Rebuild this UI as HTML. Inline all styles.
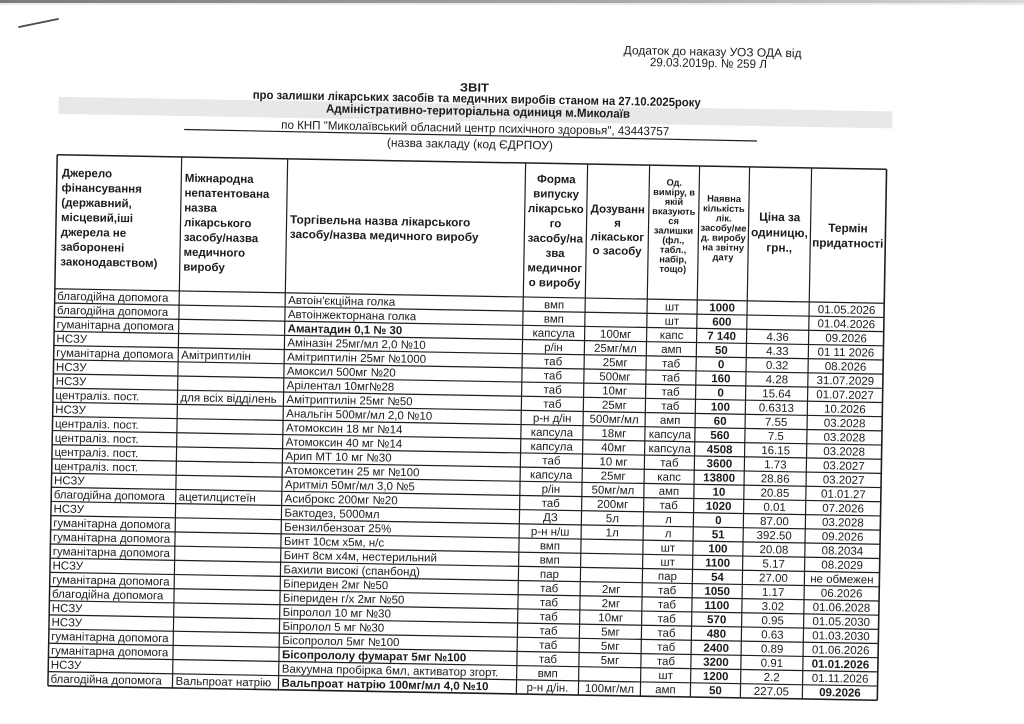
<!DOCTYPE html>
<html lang="uk">
<head>
<meta charset="utf-8">
<title>Звіт про залишки лікарських засобів</title>
<style>
html,body{margin:0;padding:0;background:#fff;}
svg{display:block;}
text{font-family:"Liberation Sans","DejaVu Sans",sans-serif;font-size:11.5px;fill:#1c1c1c;}
.c{text-anchor:middle;}
.b{font-weight:bold;}
.q{text-anchor:middle;font-weight:bold;}
.h{font-weight:bold;font-size:11.5px;}
.hc{font-weight:bold;font-size:11.5px;text-anchor:middle;}
.hs{font-weight:bold;font-size:9.3px;text-anchor:middle;}
.hl{font-weight:bold;font-size:11.8px;}
.hlc{font-weight:bold;font-size:11.8px;text-anchor:middle;}
.t{font-size:12px;}
.tb{font-size:12px;font-weight:bold;}
.grid line{stroke:#1e1e1e;stroke-width:1.2;}
</style>
</head>
<body>
<svg width="1024" height="724" viewBox="0 0 1024 724" xmlns="http://www.w3.org/2000/svg">
<defs>
<linearGradient id="tg" x1="0" y1="0" x2="1" y2="0">
<stop offset="0" stop-color="#7c7c7c"/>
<stop offset="0.6" stop-color="#a8a8a8"/>
<stop offset="1" stop-color="#d8d8d8"/>
</linearGradient>
</defs>
<rect x="0" y="0" width="1024" height="724" fill="#ffffff"/>
<rect x="0" y="0" width="1024" height="3" fill="url(#tg)"/>
<rect x="0" y="3" width="1024" height="2" fill="#ececec"/>
<line x1="19" y1="27" x2="58" y2="19" stroke="#4a4a4a" stroke-width="1.8" stroke-linecap="round"/>

<g transform="rotate(1 467 427.5)">
<!-- grey scan band -->
<rect x="53" y="104" width="834" height="17" fill="#e8e8e8"/>

<!-- heading -->
<text class="t" x="706" y="51.5" text-anchor="middle" textLength="178" lengthAdjust="spacingAndGlyphs">Додаток до наказу УОЗ ОДА від</text>
<text class="t" x="702" y="63" text-anchor="middle" textLength="117" lengthAdjust="spacingAndGlyphs">29.03.2019р. № 259 Л</text>
<text class="tb" x="468.5" y="91.5" text-anchor="middle" textLength="29" lengthAdjust="spacingAndGlyphs">ЗВІТ</text>
<text class="tb" x="471" y="102.5" text-anchor="middle" textLength="448" lengthAdjust="spacingAndGlyphs">про залишки лікарських засобів та медичних виробів станом на 27.10.2025року</text>
<text class="tb" x="472.5" y="115" text-anchor="middle" textLength="304" lengthAdjust="spacingAndGlyphs">Адміністративно-територіальна одиниця  м.Миколаїв</text>
<text class="t" x="470" y="132" text-anchor="middle" textLength="388" lengthAdjust="spacingAndGlyphs">по КНП "Миколаївський обласний центр психічного здоровья", 43443757</text>
<line x1="179" y1="134.5" x2="752" y2="136" stroke="#1e1e1e" stroke-width="1.2"/>
<text class="t" x="465" y="148" text-anchor="middle" textLength="166" lengthAdjust="spacingAndGlyphs">(назва закладу (код ЄДРПОУ)</text>

<!-- table grid -->
<g class="grid">
<line x1="52.5" y1="162" x2="882" y2="162" style="stroke-width:1.5"/>
<line x1="52.5" y1="296" x2="882" y2="296"/>
<line x1="52.5" y1="310.18" x2="882" y2="310.18"/>
<line x1="52.5" y1="324.36" x2="882" y2="324.36"/>
<line x1="52.5" y1="338.54" x2="882" y2="338.54"/>
<line x1="52.5" y1="352.72" x2="882" y2="352.72"/>
<line x1="52.5" y1="366.9" x2="882" y2="366.9"/>
<line x1="52.5" y1="381.08" x2="882" y2="381.08"/>
<line x1="52.5" y1="395.26" x2="882" y2="395.26"/>
<line x1="52.5" y1="409.44" x2="882" y2="409.44"/>
<line x1="52.5" y1="423.62" x2="882" y2="423.62"/>
<line x1="52.5" y1="437.8" x2="882" y2="437.8"/>
<line x1="52.5" y1="451.98" x2="882" y2="451.98"/>
<line x1="52.5" y1="466.16" x2="882" y2="466.16"/>
<line x1="52.5" y1="480.34" x2="882" y2="480.34"/>
<line x1="52.5" y1="494.52" x2="882" y2="494.52"/>
<line x1="52.5" y1="508.7" x2="882" y2="508.7"/>
<line x1="52.5" y1="522.88" x2="882" y2="522.88"/>
<line x1="52.5" y1="537.06" x2="882" y2="537.06"/>
<line x1="52.5" y1="551.24" x2="882" y2="551.24"/>
<line x1="52.5" y1="565.42" x2="882" y2="565.42"/>
<line x1="52.5" y1="579.6" x2="882" y2="579.6"/>
<line x1="52.5" y1="593.78" x2="882" y2="593.78"/>
<line x1="52.5" y1="607.96" x2="882" y2="607.96"/>
<line x1="52.5" y1="622.14" x2="882" y2="622.14"/>
<line x1="52.5" y1="636.32" x2="882" y2="636.32"/>
<line x1="52.5" y1="650.5" x2="882" y2="650.5"/>
<line x1="52.5" y1="664.68" x2="882" y2="664.68"/>
<line x1="52.5" y1="678.86" x2="882" y2="678.86"/>
<line x1="52.5" y1="693.04" x2="882" y2="693.04" style="stroke-width:1.6"/>

<line x1="52.5" y1="162" x2="52.5" y2="693.04" style="stroke-width:1.5"/>
<line x1="177" y1="162" x2="177" y2="693.04"/>
<line x1="283" y1="162" x2="283" y2="693.04"/>
<line x1="521" y1="162" x2="521" y2="693.04"/>
<line x1="583" y1="162" x2="583" y2="693.04"/>
<line x1="645" y1="162" x2="645" y2="693.04"/>
<line x1="695" y1="162" x2="695" y2="693.04"/>
<line x1="745" y1="162" x2="745" y2="693.04"/>
<line x1="807" y1="162" x2="807" y2="693.04"/>
<line x1="882" y1="162" x2="882" y2="693.04" style="stroke-width:1.6"/>
</g>

<!-- header texts -->
<text class="h" x="57.5" y="183.7">Джерело</text>
<text class="h" x="57.5" y="198.5">фінансування</text>
<text class="h" x="57.5" y="213.3">(державний,</text>
<text class="h" x="57.5" y="228.1">місцевий,іші</text>
<text class="h" x="57.5" y="242.9">джерела не</text>
<text class="h" x="57.5" y="257.7">заборонені</text>
<text class="h" x="57.5" y="272.5">законодавством)</text>

<text class="h" x="180.5" y="186.7">Міжнародна</text>
<text class="h" x="180.5" y="201.5">непатентована</text>
<text class="h" x="180.5" y="216.3">назва</text>
<text class="h" x="180.5" y="231.1">лікарського</text>
<text class="h" x="180.5" y="245.9">засобу/назва</text>
<text class="h" x="180.5" y="260.7">медичного</text>
<text class="h" x="180.5" y="275.5">виробу</text>

<text class="hl" x="286.5" y="226.5">Торгівельна назва лікарського</text>
<text class="hl" x="286.5" y="241">засобу/назва медичного виробу</text>

<text class="hc" x="552" y="181.4">Форма</text>
<text class="hc" x="552" y="196.2">випуску</text>
<text class="hc" x="552" y="211">лікарсько</text>
<text class="hc" x="552" y="225.8">го</text>
<text class="hc" x="552" y="240.6">засобу/на</text>
<text class="hc" x="552" y="255.4">зва</text>
<text class="hc" x="552" y="270.2">медичног</text>
<text class="hc" x="552" y="285">о виробу</text>

<text class="hc" x="614" y="210.3">Дозуванн</text>
<text class="hc" x="614" y="224.2">я</text>
<text class="hc" x="614" y="238.1">лікаськог</text>
<text class="hc" x="614" y="252">о засобу</text>

<text class="hs" x="670" y="182.1">Од.</text>
<text class="hs" x="670" y="191.7">виміру, в</text>
<text class="hs" x="670" y="201.3">якій</text>
<text class="hs" x="670" y="210.9">вказують</text>
<text class="hs" x="670" y="220.5">ся</text>
<text class="hs" x="670" y="230.1">залишки</text>
<text class="hs" x="670" y="239.7">(фл.,</text>
<text class="hs" x="670" y="249.3">табл.,</text>
<text class="hs" x="670" y="258.9">набір,</text>
<text class="hs" x="670" y="268.5">тощо)</text>

<text class="hs" x="720" y="197.4">Наявна</text>
<text class="hs" x="720" y="207.2">кількість</text>
<text class="hs" x="720" y="216.9">лік.</text>
<text class="hs" x="720" y="226.7">засобу/ме</text>
<text class="hs" x="720" y="236.4">д. виробу</text>
<text class="hs" x="720" y="246.2">на звітну</text>
<text class="hs" x="720" y="255.9">дату</text>

<text class="hlc" x="776" y="215.6">Ціна за</text>
<text class="hlc" x="776" y="231.2">одиницю,</text>
<text class="hlc" x="776" y="246.2">грн.,</text>

<text class="hlc" x="844.5" y="225.5">Термін</text>
<text class="hlc" x="844.5" y="240.5">придатності</text>

<!-- data rows -->
<g transform="translate(0,296)">
<text x="55" y="11">благодійна допомога</text>
<text x="286" y="11">Автоін'єкційна голка</text>
<text class="c" x="552" y="11">вмп</text>
<text class="c" x="670" y="11">шт</text>
<text class="q" x="720" y="11">1000</text>
<text class="c" x="844.5" y="11">01.05.2026</text>
</g>
<g transform="translate(0,310.18)">
<text x="55" y="11">благодійна допомога</text>
<text x="286" y="11">Автоінжекторнана голка</text>
<text class="c" x="552" y="11">вмп</text>
<text class="c" x="670" y="11">шт</text>
<text class="q" x="720" y="11">600</text>
<text class="c" x="844.5" y="11">01.04.2026</text>
</g>
<g transform="translate(0,324.36)">
<text x="55" y="11">гуманітарна допомога</text>
<text class="b" x="286" y="11">Амантадин 0,1 № 30</text>
<text class="c" x="552" y="11">капсула</text>
<text class="c" x="614" y="11">100мг</text>
<text class="c" x="670" y="11">капс</text>
<text class="q" x="720" y="11">7 140</text>
<text class="c" x="776" y="11">4.36</text>
<text class="c" x="844.5" y="11">09.2026</text>
</g>
<g transform="translate(0,338.54)">
<text x="55" y="11">НСЗУ</text>
<text x="286" y="11">Аміназін 25мг/мл 2,0 №10</text>
<text class="c" x="552" y="11">р/ін</text>
<text class="c" x="614" y="11">25мг/мл</text>
<text class="c" x="670" y="11">амп</text>
<text class="q" x="720" y="11">50</text>
<text class="c" x="776" y="11">4.33</text>
<text class="c" x="844.5" y="11">01 11 2026</text>
</g>
<g transform="translate(0,352.72)">
<text x="55" y="11">гуманітарна допомога</text>
<text x="180" y="11">Амітриптилін</text>
<text x="286" y="11">Амітриптилін 25мг №1000</text>
<text class="c" x="552" y="11">таб</text>
<text class="c" x="614" y="11">25мг</text>
<text class="c" x="670" y="11">таб</text>
<text class="q" x="720" y="11">0</text>
<text class="c" x="776" y="11">0.32</text>
<text class="c" x="844.5" y="11">08.2026</text>
</g>
<g transform="translate(0,366.9)">
<text x="55" y="11">НСЗУ</text>
<text x="286" y="11">Амоксил 500мг №20</text>
<text class="c" x="552" y="11">таб</text>
<text class="c" x="614" y="11">500мг</text>
<text class="c" x="670" y="11">таб</text>
<text class="q" x="720" y="11">160</text>
<text class="c" x="776" y="11">4.28</text>
<text class="c" x="844.5" y="11">31.07.2029</text>
</g>
<g transform="translate(0,381.08)">
<text x="55" y="11">НСЗУ</text>
<text x="286" y="11">Арілентал 10мг№28</text>
<text class="c" x="552" y="11">таб</text>
<text class="c" x="614" y="11">10мг</text>
<text class="c" x="670" y="11">таб</text>
<text class="q" x="720" y="11">0</text>
<text class="c" x="776" y="11">15.64</text>
<text class="c" x="844.5" y="11">01.07.2027</text>
</g>
<g transform="translate(0,395.26)">
<text x="55" y="11">централіз. пост.</text>
<text x="180" y="11">для всіх відділень</text>
<text x="286" y="11">Амітриптилін 25мг №50</text>
<text class="c" x="552" y="11">таб</text>
<text class="c" x="614" y="11">25мг</text>
<text class="c" x="670" y="11">таб</text>
<text class="q" x="720" y="11">100</text>
<text class="c" x="776" y="11">0.6313</text>
<text class="c" x="844.5" y="11">10.2026</text>
</g>
<g transform="translate(0,409.44)">
<text x="55" y="11">НСЗУ</text>
<text x="286" y="11">Анальгін 500мг/мл 2,0 №10</text>
<text class="c" x="552" y="11">р-н д/ін</text>
<text class="c" x="614" y="11">500мг/мл</text>
<text class="c" x="670" y="11">амп</text>
<text class="q" x="720" y="11">60</text>
<text class="c" x="776" y="11">7.55</text>
<text class="c" x="844.5" y="11">03.2028</text>
</g>
<g transform="translate(0,423.62)">
<text x="55" y="11">централіз. пост.</text>
<text x="286" y="11">Атомоксин 18 мг №14</text>
<text class="c" x="552" y="11">капсула</text>
<text class="c" x="614" y="11">18мг</text>
<text class="c" x="670" y="11">капсула</text>
<text class="q" x="720" y="11">560</text>
<text class="c" x="776" y="11">7.5</text>
<text class="c" x="844.5" y="11">03.2028</text>
</g>
<g transform="translate(0,437.8)">
<text x="55" y="11">централіз. пост.</text>
<text x="286" y="11">Атомоксин 40 мг №14</text>
<text class="c" x="552" y="11">капсула</text>
<text class="c" x="614" y="11">40мг</text>
<text class="c" x="670" y="11">капсула</text>
<text class="q" x="720" y="11">4508</text>
<text class="c" x="776" y="11">16.15</text>
<text class="c" x="844.5" y="11">03.2028</text>
</g>
<g transform="translate(0,451.98)">
<text x="55" y="11">централіз. пост.</text>
<text x="286" y="11">Арип МТ 10 мг №30</text>
<text class="c" x="552" y="11">таб</text>
<text class="c" x="614" y="11">10 мг</text>
<text class="c" x="670" y="11">таб</text>
<text class="q" x="720" y="11">3600</text>
<text class="c" x="776" y="11">1.73</text>
<text class="c" x="844.5" y="11">03.2027</text>
</g>
<g transform="translate(0,466.16)">
<text x="55" y="11">централіз. пост.</text>
<text x="286" y="11">Атомоксетин 25 мг №100</text>
<text class="c" x="552" y="11">капсула</text>
<text class="c" x="614" y="11">25мг</text>
<text class="c" x="670" y="11">капс</text>
<text class="q" x="720" y="11">13800</text>
<text class="c" x="776" y="11">28.86</text>
<text class="c" x="844.5" y="11">03.2027</text>
</g>
<g transform="translate(0,480.34)">
<text x="55" y="11">НСЗУ</text>
<text x="286" y="11">Аритміл 50мг/мл 3,0 №5</text>
<text class="c" x="552" y="11">р/ін</text>
<text class="c" x="614" y="11">50мг/мл</text>
<text class="c" x="670" y="11">амп</text>
<text class="q" x="720" y="11">10</text>
<text class="c" x="776" y="11">20.85</text>
<text class="c" x="844.5" y="11">01.01.27</text>
</g>
<g transform="translate(0,494.52)">
<text x="55" y="11">благодійна допомога</text>
<text x="180" y="11">ацетилцистеїн</text>
<text x="286" y="11">Асиброкс 200мг №20</text>
<text class="c" x="552" y="11">таб</text>
<text class="c" x="614" y="11">200мг</text>
<text class="c" x="670" y="11">таб</text>
<text class="q" x="720" y="11">1020</text>
<text class="c" x="776" y="11">0.01</text>
<text class="c" x="844.5" y="11">07.2026</text>
</g>
<g transform="translate(0,508.7)">
<text x="55" y="11">НСЗУ</text>
<text x="286" y="11">Бактодез, 5000мл</text>
<text class="c" x="552" y="11">ДЗ</text>
<text class="c" x="614" y="11">5л</text>
<text class="c" x="670" y="11">л</text>
<text class="q" x="720" y="11">0</text>
<text class="c" x="776" y="11">87.00</text>
<text class="c" x="844.5" y="11">03.2028</text>
</g>
<g transform="translate(0,522.88)">
<text x="55" y="11">гуманітарна допомога</text>
<text x="286" y="11">Бензилбензоат 25%</text>
<text class="c" x="552" y="11">р-н н/ш</text>
<text class="c" x="614" y="11">1л</text>
<text class="c" x="670" y="11">л</text>
<text class="q" x="720" y="11">51</text>
<text class="c" x="776" y="11">392.50</text>
<text class="c" x="844.5" y="11">09.2026</text>
</g>
<g transform="translate(0,537.06)">
<text x="55" y="11">гуманітарна допомога</text>
<text x="286" y="11">Бинт 10см х5м, н/с</text>
<text class="c" x="552" y="11">вмп</text>
<text class="c" x="670" y="11">шт</text>
<text class="q" x="720" y="11">100</text>
<text class="c" x="776" y="11">20.08</text>
<text class="c" x="844.5" y="11">08.2034</text>
</g>
<g transform="translate(0,551.24)">
<text x="55" y="11">гуманітарна допомога</text>
<text x="286" y="11">Бинт 8см х4м, нестерильний</text>
<text class="c" x="552" y="11">вмп</text>
<text class="c" x="670" y="11">шт</text>
<text class="q" x="720" y="11">1100</text>
<text class="c" x="776" y="11">5.17</text>
<text class="c" x="844.5" y="11">08.2029</text>
</g>
<g transform="translate(0,565.42)">
<text x="55" y="11">НСЗУ</text>
<text x="286" y="11">Бахили високі (спанбонд)</text>
<text class="c" x="552" y="11">пар</text>
<text class="c" x="670" y="11">пар</text>
<text class="q" x="720" y="11">54</text>
<text class="c" x="776" y="11">27.00</text>
<text class="c" x="844.5" y="11">не обмежен</text>
</g>
<g transform="translate(0,579.6)">
<text x="55" y="11">гуманітарна допомога</text>
<text x="286" y="11">Біпериден  2мг №50</text>
<text class="c" x="552" y="11">таб</text>
<text class="c" x="614" y="11">2мг</text>
<text class="c" x="670" y="11">таб</text>
<text class="q" x="720" y="11">1050</text>
<text class="c" x="776" y="11">1.17</text>
<text class="c" x="844.5" y="11">06.2026</text>
</g>
<g transform="translate(0,593.78)">
<text x="55" y="11">благодійна допомога</text>
<text x="286" y="11">Біпериден г/х 2мг №50</text>
<text class="c" x="552" y="11">таб</text>
<text class="c" x="614" y="11">2мг</text>
<text class="c" x="670" y="11">таб</text>
<text class="q" x="720" y="11">1100</text>
<text class="c" x="776" y="11">3.02</text>
<text class="c" x="844.5" y="11">01.06.2028</text>
</g>
<g transform="translate(0,607.96)">
<text x="55" y="11">НСЗУ</text>
<text x="286" y="11">Біпролол 10 мг №30</text>
<text class="c" x="552" y="11">таб</text>
<text class="c" x="614" y="11">10мг</text>
<text class="c" x="670" y="11">таб</text>
<text class="q" x="720" y="11">570</text>
<text class="c" x="776" y="11">0.95</text>
<text class="c" x="844.5" y="11">01.05.2030</text>
</g>
<g transform="translate(0,622.14)">
<text x="55" y="11">НСЗУ</text>
<text x="286" y="11">Біпролол 5 мг №30</text>
<text class="c" x="552" y="11">таб</text>
<text class="c" x="614" y="11">5мг</text>
<text class="c" x="670" y="11">таб</text>
<text class="q" x="720" y="11">480</text>
<text class="c" x="776" y="11">0.63</text>
<text class="c" x="844.5" y="11">01.03.2030</text>
</g>
<g transform="translate(0,636.32)">
<text x="55" y="11">гуманітарна допомога</text>
<text x="286" y="11">Бісопролол 5мг №100</text>
<text class="c" x="552" y="11">таб</text>
<text class="c" x="614" y="11">5мг</text>
<text class="c" x="670" y="11">таб</text>
<text class="q" x="720" y="11">2400</text>
<text class="c" x="776" y="11">0.89</text>
<text class="c" x="844.5" y="11">01.06.2026</text>
</g>
<g transform="translate(0,650.5)">
<text x="55" y="11">гуманітарна допомога</text>
<text class="b" x="286" y="11">Бісопрололу фумарат 5мг №100</text>
<text class="c" x="552" y="11">таб</text>
<text class="c" x="614" y="11">5мг</text>
<text class="c" x="670" y="11">таб</text>
<text class="q" x="720" y="11">3200</text>
<text class="c" x="776" y="11">0.91</text>
<text class="q" x="844.5" y="11">01.01.2026</text>
</g>
<g transform="translate(0,664.68)">
<text x="55" y="11">НСЗУ</text>
<text x="286" y="11">Вакуумна пробірка 6мл, активатор згорт.</text>
<text class="c" x="552" y="11">вмп</text>
<text class="c" x="670" y="11">шт</text>
<text class="q" x="720" y="11">1200</text>
<text class="c" x="776" y="11">2.2</text>
<text class="c" x="844.5" y="11">01.11.2026</text>
</g>
<g transform="translate(0,678.86)">
<text x="55" y="11">благодійна допомога</text>
<text x="180" y="11">Вальпроат натрію</text>
<text class="b" x="286" y="11">Вальпроат натрію 100мг/мл 4,0 №10</text>
<text class="c" x="552" y="11">р-н д/ін.</text>
<text class="c" x="614" y="11">100мг/мл</text>
<text class="c" x="670" y="11">амп</text>
<text class="q" x="720" y="11">50</text>
<text class="c" x="776" y="11">227.05</text>
<text class="q" x="844.5" y="11">09.2026</text>
</g>
</g>
</svg>
</body>
</html>
